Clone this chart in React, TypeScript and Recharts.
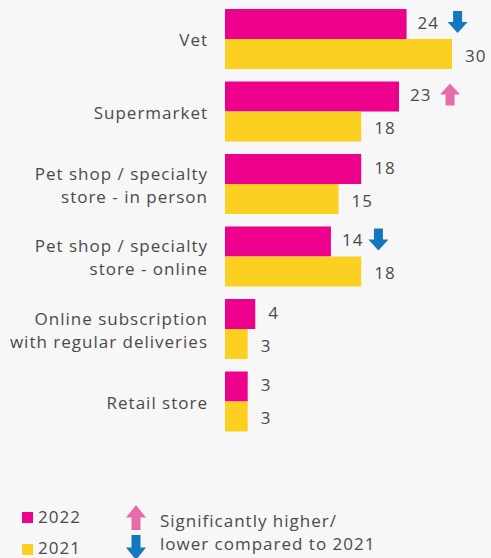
import React from "react";
import { BarChart, Bar, XAxis, YAxis, LabelList } from "recharts";

const categories = [
  "Vet",
  "Supermarket",
  "Pet shop / specialty\nstore - in person",
  "Pet shop / specialty\nstore - online",
  "Online subscription\nwith regular deliveries",
  "Retail store",
];
const values2022 = [24, 23, 18, 14, 4, 3];
const values2021 = [30, 18, 15, 18, 3, 3];
const significance2022: (string | null)[] = ["down", "up", null, "down", null, null];

const data = categories.map((c, i) => ({
  name: c,
  y2022: values2022[i],
  y2021: values2021[i],
}));

const MAGENTA = "#EC008C";
const YELLOW = "#FCD020";
const BLUE = "#1577BD";
const PINK = "#E56DAA";
const TEXT = "#4a4a4a";
const FONT = "'Open Sans', sans-serif";
const LS = 1;

function arrowPath(x0: number, y0: number, dir: string, h = 22) {
  const w = 20, cx = x0 + w / 2, hh = h / 2;
  if (dir === "down") {
    return `M${cx - 4.5},${y0} L${cx + 4.5},${y0} L${cx + 4.5},${y0 + hh} L${x0 + w},${y0 + hh} L${cx},${y0 + h} L${x0},${y0 + hh} L${cx - 4.5},${y0 + hh} Z`;
  }
  return `M${cx},${y0} L${x0 + w},${y0 + hh} L${cx + 4.5},${y0 + hh} L${cx + 4.5},${y0 + h} L${cx - 4.5},${y0 + h} L${cx - 4.5},${y0 + hh} L${x0},${y0 + hh} Z`;
}

const CategoryTick = (props: any) => {
  const { x, y, payload } = props;
  const lines = String(payload.value).split("\n");
  const lh = 23;
  const start = y - ((lines.length - 1) * lh) / 2;
  return (
    <text x={x} y={start} textAnchor="end" fill={TEXT} fontSize={17} fontFamily={FONT} letterSpacing={LS} dominantBaseline="central">
      {lines.map((l, i) => (
        <tspan key={i} x={x} y={start + i * lh} dominantBaseline="central">
          {l}
        </tspan>
      ))}
    </text>
  );
};

const makeLabel = (is2022: boolean) => (props: any) => {
  const { x, y, width, height, value, index } = props;
  const sig = is2022 ? significance2022[index] : null;
  const tx = x + width + (sig ? 11 : 13);
  const cy = y + height / 2 + (is2022 ? -2 : 1);
  const str = String(value);
  const tw = str.split("").reduce((s, ch) => s + (ch === "1" ? 8 : 11.5), 0);
  return (
    <g>
      <text x={tx} y={cy} fill={TEXT} fontSize={17} fontFamily={FONT} letterSpacing={LS} dominantBaseline="central">
        {str}
      </text>
      {sig && (
        <path d={arrowPath(tx + tw + 7, cy - 11, sig)} fill={sig === "down" ? BLUE : PINK} />
      )}
    </g>
  );
};

export default function App() {
  return (
    <div style={{ position: "fixed", left: 0, top: 0, width: 491, height: 558, background: "#f7f7f7", overflow: "hidden" }}>
      <BarChart
        width={491}
        height={558}
        data={data}
        layout="vertical"
        margin={{ top: 3, right: 39, bottom: 120, left: 0 }}
        barCategoryGap={6}
        barGap={0}
      >
        <XAxis type="number" domain={[0, 30]} hide />
        <YAxis
          type="category"
          dataKey="name"
          width={225}
          axisLine={false}
          tickLine={false}
          tick={<CategoryTick />}
          tickMargin={11}
          interval={0}
        />
        <Bar dataKey="y2022" fill={MAGENTA} isAnimationActive={false}>
          <LabelList dataKey="y2022" content={makeLabel(true)} />
        </Bar>
        <Bar dataKey="y2021" fill={YELLOW} isAnimationActive={false}>
          <LabelList dataKey="y2021" content={makeLabel(false)} />
        </Bar>
      </BarChart>
      <svg width={491} height={68} style={{ position: "absolute", left: 0, top: 490 }}>
        <rect x={22} y={22} width={11} height={11} fill={MAGENTA} />
        <text x={38} y={33} fill={TEXT} fontSize={17} fontFamily={FONT} letterSpacing={LS}>2022</text>
        <rect x={22} y={54} width={11} height={11} fill={YELLOW} />
        <text x={38} y={64} fill={TEXT} fontSize={17} fontFamily={FONT} letterSpacing={LS}>2021</text>
        <path d={arrowPath(126, 15, "up", 25)} fill={PINK} />
        <path d={arrowPath(126, 45, "down", 25)} fill={BLUE} />
        <text x={160} y={37} fill={TEXT} fontSize={17} fontFamily={FONT} letterSpacing={LS}>Significantly higher/</text>
        <text x={160} y={60} fill={TEXT} fontSize={17} fontFamily={FONT} letterSpacing={LS}>lower compared to 2021</text>
      </svg>
    </div>
  );
}
